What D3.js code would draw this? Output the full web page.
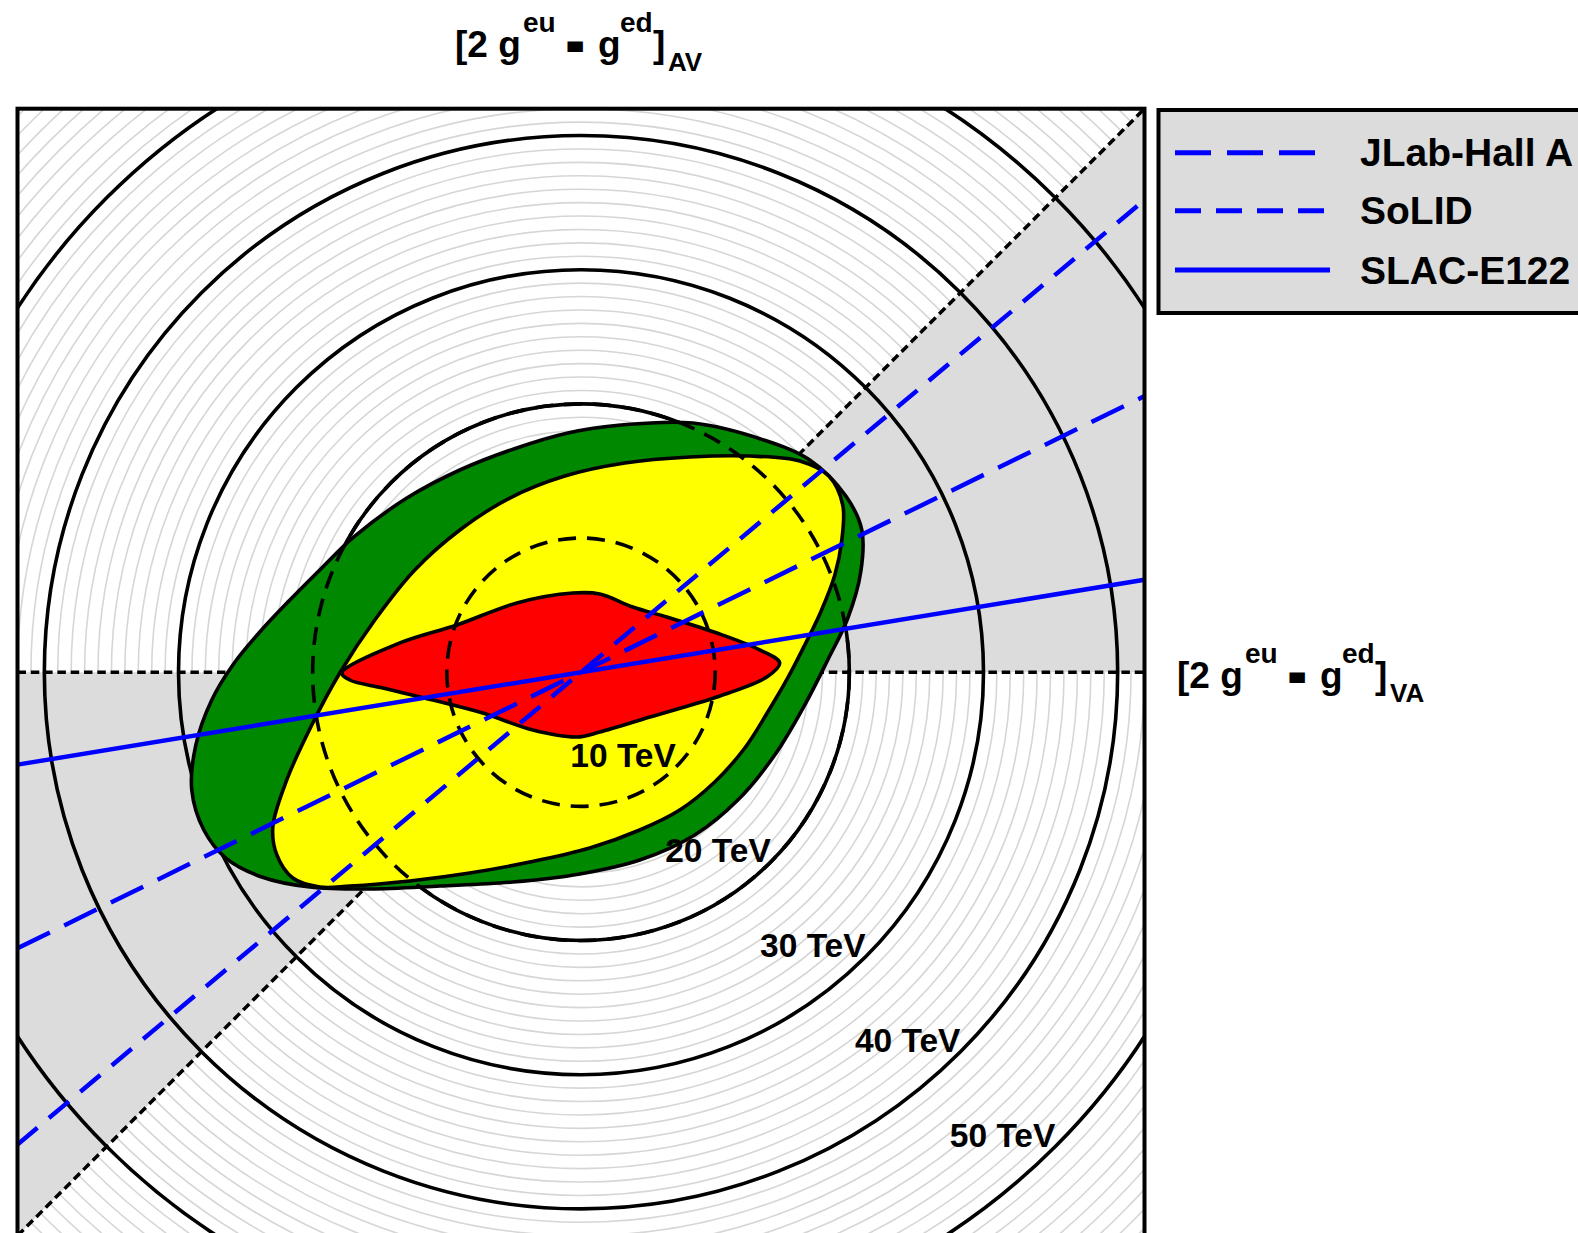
<!DOCTYPE html>
<html>
<head>
<meta charset="utf-8">
<script src="https://cdn.jsdelivr.net/npm/d3@7"></script>
<style>
  html, body { margin: 0; padding: 0; background: #fff; }
  svg { display: block; }
  text { font-family: "Liberation Sans", Arial, Helvetica, sans-serif; font-weight: bold; fill: #000; }
</style>
</head>
<body>
<svg id="chart" width="1578" height="1233"></svg>
<script>
// ---------------- data ----------------
const axisRange = [-42, 42];                 // TeV-scale coordinates of the square panel
const tevRings = [10, 20, 30, 40, 50];       // labelled mass-scale circles
const tevLabels = ["10 TeV", "20 TeV", "30 TeV", "40 TeV", "50 TeV"];
const dashedRings = [10, 20];                // dashed circles drawn over the contours
const fineRingStep = 1;                      // faint circles every 1 TeV
const fineRingMax = 60;

const lineNames = ["JLab-Hall A", "SoLID", "SLAC-E122"];
const lineSlopes = [0.490, 0.838, 0.164];
const lineDashes = ["36,16", "26,15", null];

// contour outlines (u, v) in the same units
const greenU = [2.97, 8.33, 13.62, 17.05, 19.74, 20.93, 20.85, 19.89, 18.39, 16.68, 14.44, 11.69, 8.48, 4.38, -0.09, -5.08, -10.52, -15.74, -20.21, -23.79, -26.47, -28.11, -29.01, -28.71, -27.52, -25.95, -23.94, -21.70, -19.32, -16.93, -12.98, -9.03, -5.01, -0.98];
const greenV = [18.42, 18.57, 17.31, 15.82, 13.13, 10.60, 7.47, 4.04, 0.91, -2.44, -6.17, -9.53, -12.13, -14.00, -15.04, -15.64, -15.94, -16.16, -16.01, -15.26, -13.85, -11.76, -8.78, -5.43, -2.07, 0.54, 3.00, 5.38, 7.77, 10.08, 12.98, 15.07, 16.64, 17.83];

const yellowU = [16.31, 18.47, 19.51, 19.44, 18.92, 17.87, 16.68, 15.41, 13.92, 12.21, 9.97, 7.36, 4.38, 0.66, -3.82, -8.29, -12.76, -17.23, -19.47, -21.48, -22.67, -22.97, -21.93, -20.14, -17.98, -15.37, -12.39, -9.03, -5.31, -1.21, 3.26, 8.11, 12.58];
const yellowV = [15.74, 14.62, 12.46, 9.85, 7.24, 4.49, 2.03, -0.43, -2.97, -5.65, -8.18, -10.27, -11.76, -13.10, -14.15, -14.97, -15.56, -15.94, -16.01, -15.34, -13.62, -11.54, -8.03, -4.08, -0.06, 3.89, 7.62, 10.60, 12.98, 14.62, 15.59, 16.04, 16.11];

const redU = [-17.82, -13.50, -9.25, -4.78, -0.61, 1.40, 3.86, 6.39, 10.12, 13.32, 14.81, 13.85, 10.12, 5.13, 1.40, -0.31, -3.59, -7.32, -11.04, -14.77, -17.23];
const redV = [-0.06, 2.18, 3.52, 5.16, 5.90, 5.83, 4.86, 4.11, 2.92, 1.66, 0.69, -0.36, -1.85, -3.34, -4.46, -4.83, -4.31, -3.04, -2.07, -1.18, -0.58];

const contourNames = ["green", "yellow", "red"];
const contourColors = ["#008800", "#ffff00", "#ff0000"];

// ---------------- layout ----------------
const svg = d3.select("#chart");
const panel = { left: 17.5, right: 1144.5, top: 108.7 };
panel.bottom = panel.top + (panel.right - panel.left);

const x = d3.scaleLinear().domain(axisRange).range([panel.left, panel.right]);
const y = d3.scaleLinear().domain(axisRange).range([panel.bottom, panel.top]);
const pxPerUnit = x(1) - x(0);

svg.append("defs").append("clipPath").attr("id", "clip")
  .append("rect")
  .attr("x", panel.left).attr("y", panel.top)
  .attr("width", panel.right - panel.left).attr("height", panel.bottom - panel.top);

const g = svg.append("g").attr("clip-path", "url(#clip)");

g.append("rect").attr("x", panel.left).attr("y", panel.top)
  .attr("width", panel.right - panel.left).attr("height", panel.bottom - panel.top)
  .attr("fill", "#fff");

// faint circles
const fine = d3.range(fineRingStep, fineRingMax + 0.001, fineRingStep);
g.append("g").selectAll("circle").data(fine).join("circle")
  .attr("cx", x(0)).attr("cy", y(0))
  .attr("r", d => d * pxPerUnit)
  .attr("fill", "none").attr("stroke", "#d6d6d6").attr("stroke-width", 1.6);

// grey wedges (0..45 deg and 180..225 deg)
const [lo, hi] = axisRange;
const wedges = [
  [[0, 0], [hi * 2, 0], [hi * 2, hi * 2]],
  [[0, 0], [lo * 2, 0], [lo * 2, lo * 2]]
];
g.append("g").selectAll("path").data(wedges).join("path")
  .attr("d", d => "M" + d.map(p => [x(p[0]), y(p[1])].join(",")).join("L") + "Z")
  .attr("fill", "#dcdcdc");

// solid mass circles
g.append("g").selectAll("circle").data(tevRings).join("circle")
  .attr("cx", x(0)).attr("cy", y(0))
  .attr("r", d => d * pxPerUnit)
  .attr("fill", "none").attr("stroke", "#000").attr("stroke-width", 3.6);

// dashed reference axes: horizontal and diagonal
const refLines = [[[lo, 0], [hi, 0]], [[lo, lo], [hi, hi]]];
g.append("g").selectAll("line").data(refLines).join("line")
  .attr("x1", d => x(d[0][0])).attr("y1", d => y(d[0][1]))
  .attr("x2", d => x(d[1][0])).attr("y2", d => y(d[1][1]))
  .attr("stroke", "#000").attr("stroke-width", 3.5).attr("stroke-dasharray", "8.5,4.8");

// contours
const contours = [
  d3.zip(greenU, greenV),
  d3.zip(yellowU, yellowV),
  d3.zip(redU, redV)
];
const shape = d3.line().x(d => x(d[0])).y(d => y(d[1]))
  .curve(d3.curveCatmullRomClosed.alpha(0.5));
g.append("g").selectAll("path").data(contours).join("path")
  .attr("d", shape)
  .attr("fill", (d, i) => contourColors[i])
  .attr("stroke", "#000").attr("stroke-width", 3.6).attr("stroke-linejoin", "round");

// dashed circles on top
g.append("g").selectAll("circle").data(dashedRings).join("circle")
  .attr("cx", x(0)).attr("cy", y(0))
  .attr("r", d => d * pxPerUnit)
  .attr("fill", "none").attr("stroke", "#000").attr("stroke-width", 3.6)
  .attr("stroke-dasharray", "18,11");

// experiment lines
g.append("g").selectAll("line").data(lineSlopes).join("line")
  .attr("x1", x(lo)).attr("y1", d => y(lo * d))
  .attr("x2", x(hi)).attr("y2", d => y(hi * d))
  .attr("stroke", "#0000ff").attr("stroke-width", 4.5)
  .attr("stroke-dasharray", (d, i) => lineDashes[i]);

// ring labels
const c45 = Math.SQRT1_2;
g.append("g").selectAll("text").data(tevRings).join("text")
  .attr("x", d => x(d * c45))
  .attr("y", d => y(-d * c45))
  .attr("text-anchor", "end")
  .attr("font-size", 33.5)
  .text((d, i) => tevLabels[i]);

// frame
svg.append("rect")
  .attr("x", panel.left).attr("y", panel.top)
  .attr("width", panel.right - panel.left).attr("height", panel.bottom - panel.top)
  .attr("fill", "none").attr("stroke", "#000").attr("stroke-width", 4);

// legend
const leg = svg.append("g");
leg.append("rect")
  .attr("x", 1158.5).attr("y", 110).attr("width", 460).attr("height", 203)
  .attr("fill", "#dcdcdc").attr("stroke", "#000").attr("stroke-width", 4);
const rowY = [152.7, 210.7, 270];
lineNames.forEach((name, i) => {
  leg.append("line")
    .attr("x1", 1175).attr("x2", 1330)
    .attr("y1", rowY[i]).attr("y2", rowY[i])
    .attr("stroke", "#0000ff").attr("stroke-width", 5)
    .attr("stroke-dasharray", lineDashes[i]);
  leg.append("text")
    .attr("x", 1360).attr("y", rowY[i] + 13.5)
    .attr("font-size", 39)
    .text(name);
});

// axis titles  [2 g^eu - g^ed]_XY
function axisTitle(x0, y0, sub) {
  const t = svg.append("text").attr("x", x0).attr("y", y0);
  const parts = [
    { s: "[2 g", dx: 0, dy: 0, fs: 37 },
    { s: "eu", dx: 68, dy: -25, fs: 28 },
    { s: "-", dx: 114, dy: -1, fs: 37, heavy: true },
    { s: "g", dx: 143, dy: 0, fs: 37 },
    { s: "ed", dx: 165, dy: -25, fs: 28 },
    { s: "]", dx: 198, dy: 0, fs: 37 },
    { s: sub, dx: 213, dy: 14, fs: 26 }
  ];
  parts.forEach(p => {
    const ts = t.append("tspan")
      .attr("x", x0 + p.dx).attr("y", y0 + p.dy)
      .attr("font-size", p.fs).text(p.s);
    if (p.heavy) ts.attr("stroke", "#000").attr("stroke-width", 6).attr("stroke-linejoin", "miter");
  });
}
axisTitle(455, 57, "AV");
axisTitle(1177, 688, "VA");
</script>
</body>
</html>
